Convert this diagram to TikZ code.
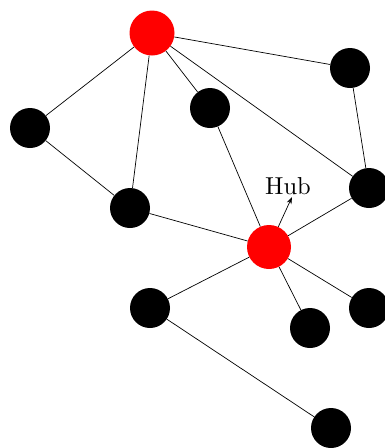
\documentclass[tikz,border=0pt]{standalone}
\usetikzlibrary{arrows.meta}
\begin{document}
\begin{tikzpicture}[x=1pt,y=-1pt,
  blk/.style={circle,fill=black,inner sep=0pt,minimum size=40pt},
  hubnode/.style={circle,fill=red,inner sep=0pt,minimum size=45pt},
  edge/.style={draw=black,line width=0.7pt}]
\useasboundingbox (0,0) rectangle (385,448);
\node[hubnode] (r1) at (152,33) {};
\node[blk] (a) at (350,68) {};
\node[blk] (b) at (30,128) {};
\node[blk] (c) at (210,108) {};
\node[blk] (d) at (369,188) {};
\node[blk] (e) at (130,208) {};
\node[hubnode,minimum size=44pt] (hub) at (269,247) {};
\node[blk] (f) at (150,308) {};
\node[blk] (g) at (310,328) {};
\node[blk] (h) at (369,308) {};
\node[blk] (i) at (331,428) {};
\node[scale=2.45,inner sep=0pt] (lbl) at (288,186) {Hub};
\coordinate (tip) at (292,197);
\draw[edge] (r1) -- (b);
\draw[edge] (r1) -- (e);
\draw[edge] (r1) -- (c);
\draw[edge] (r1) -- (a);
\draw[edge] (r1) -- (d);
\draw[edge] (a) -- (d);
\draw[edge] (b) -- (e);
\draw[edge] (e) -- (hub);
\draw[edge] (c) -- (hub);
\draw[edge] (d) -- (hub);
\draw[edge] (hub) -- (f);
\draw[edge] (hub) -- (g);
\draw[edge] (hub) -- (h);
\draw[edge] (f) -- (i);
\draw[edge,-{Stealth[length=7pt,width=5pt]}] (hub) -- (tip);
\end{tikzpicture}
\end{document}
